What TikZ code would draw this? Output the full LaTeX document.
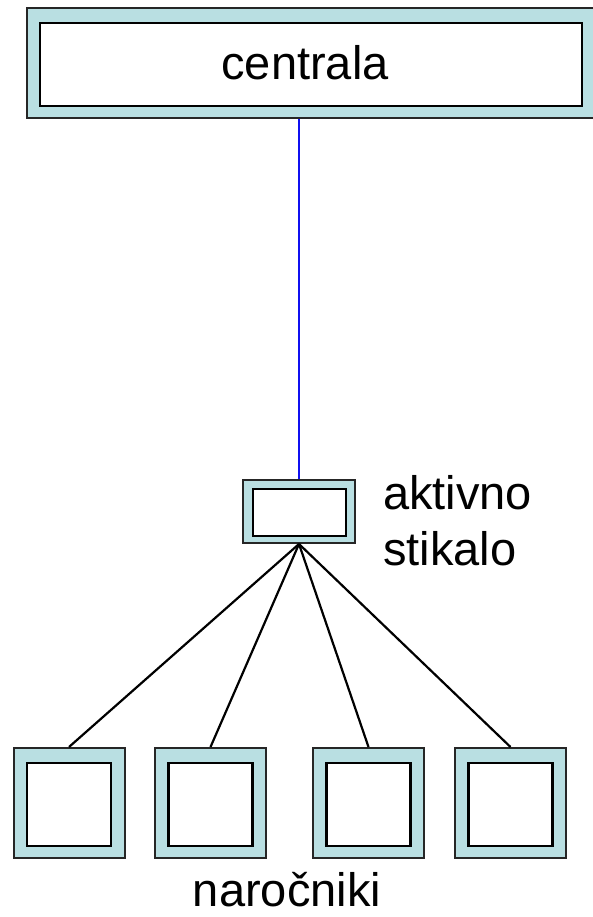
\documentclass[tikz,border=0pt]{standalone}
\usepackage{fontspec}
\setmainfont{Liberation Sans}
\definecolor{panel}{HTML}{B9DFE2}
\definecolor{wire}{HTML}{1010F0}
\begin{document}
\begin{tikzpicture}[x=1pt,y=-1pt,
  frame/.style={rectangle, draw=black!85, line width=2pt, fill=panel, inner sep=0pt},
  core/.style={rectangle, draw=black, line width=2.6pt, fill=white, inner sep=0pt},
  lbl/.style={font=\fontsize{47}{56}\selectfont, inner sep=0pt},
  link/.style={draw=black, line width=2.2pt},
  uplink/.style={draw=wire, line width=2.2pt}]
\useasboundingbox (0,0) rectangle (592,917);

% exchange
\node[frame, minimum width=569pt, minimum height=110pt] (cenO) at (311.5,63.5) {};
\node[core, minimum width=542pt, minimum height=83pt] (cenI) at (311,64.5) {};
\node[lbl, anchor=base] (cenT) at (305,80) {centrala};

% active switch
\node[frame, minimum width=112pt, minimum height=63pt] (swO) at (299,511.5) {};
\node[core, minimum width=93pt, minimum height=47pt] (swI) at (299.5,512.5) {};
\node[lbl, anchor=base west, align=left] (swT) at (383,565) {aktivno\\stikalo};

% subscribers
\foreach \i/\x in {1/69, 2/210.5, 3/368.5, 4/510.5} {
  \node[frame, minimum width=111pt, minimum height=110pt] (u\i) at (\x,803) {};
  \node[core, minimum width=84pt, minimum height=83pt] (ui\i) at (\x,804.5) {};
}
\node[lbl, anchor=base] (uT) at (287,906) {naročniki};

% connections
\draw[uplink] (swO.north) -- (swO.north |- cenO.south);
\foreach \i in {1,...,4} \draw[link] (swO.south) -- (u\i.north);
\end{tikzpicture}
\end{document}
